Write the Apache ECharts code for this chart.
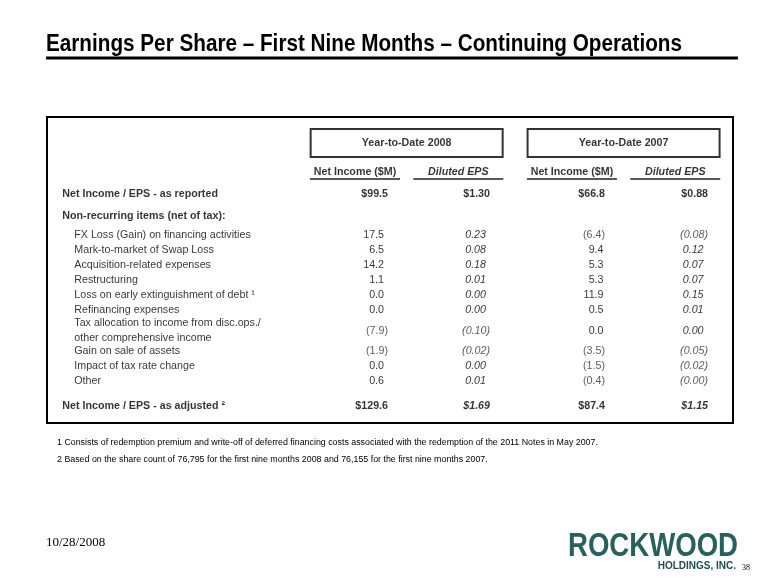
<!DOCTYPE html>
<html><head><meta charset="utf-8">
<script src="https://cdn.jsdelivr.net/npm/echarts@6/dist/echarts.min.js"></script>
<style>html,body{margin:0;padding:0;background:#fff}#c{width:780px;height:585px}</style>
</head><body><div id="c"></div>
<script>
// ---------------- data ----------------
const titleText = 'Earnings Per Share \u2013 First Nine Months \u2013 Continuing Operations';
const periods = ['Year-to-Date 2008', 'Year-to-Date 2007'];
const columnHeaders = ['Net Income ($M)', 'Diluted EPS', 'Net Income ($M)', 'Diluted EPS'];
const rowLabels = [
  'Net Income / EPS - as reported',
  'Non-recurring items (net of tax):',
  'FX Loss (Gain) on financing activities',
  'Mark-to-market of Swap Loss',
  'Acquisition-related expenses',
  'Restructuring',
  'Loss on early extinguishment of debt \u00b9',
  'Refinancing expenses',
  'Tax allocation to income from disc.ops./\nother comprehensive income',
  'Gain on sale of assets',
  'Impact of tax rate change',
  'Other',
  'Net Income / EPS - as adjusted \u00b2'
];
const rowKinds = ['total','section','item','item','item','item','item','item','item','item','item','item','total'];
const netIncome2008 = [99.5, null, 17.5, 6.5, 14.2, 1.1, 0.0, 0.0, -7.9, -1.9, 0.0, 0.6, 129.6];
const eps2008       = [1.30, null, 0.23, 0.08, 0.18, 0.01, 0.00, 0.00, -0.10, -0.02, 0.00, 0.01, 1.69];
const netIncome2007 = [66.8, null, -6.4, 9.4, 5.3, 5.3, 11.9, 0.5, 0.0, -3.5, -1.5, -0.4, 87.4];
const eps2007       = [0.88, null, -0.08, 0.12, 0.07, 0.07, 0.15, 0.01, 0.00, -0.05, -0.02, -0.00, 1.15];
const footnotes = [
  '1 Consists of redemption premium and write-off of deferred financing costs associated with the redemption of the 2011 Notes in May 2007.',
  '2 Based on the share count of 76,795 for the first nine months 2008 and 76,155 for the first nine months 2007.'
];
const footerDate = '10/28/2008';
const pageNumber = '38';
const logoMain = 'ROCKWOOD';
const logoSub = 'HOLDINGS, INC.';

// ---------------- layout ----------------
const FONT = '"Liberation Sans", Arial, sans-serif';
const FS = 10.7;
const GRID = {left: 47, top: 117, width: 686, height: 306};
const COL0_PX = 355, X_UNIT = 103.3;
const LINE0_PX = 193.8, Y_UNIT = 14.95;
const xMin = -(COL0_PX - GRID.left) / X_UNIT, xMax = xMin + GRID.width / X_UNIT;
const yMin = -(LINE0_PX - GRID.top) / Y_UNIT, yMax = yMin + GRID.height / Y_UNIT;

const columns = [
  {vals: netIncome2008, group: 0, sub: 0, dec: 1, eps: false},
  {vals: eps2008,       group: 0, sub: 1, dec: 2, eps: true},
  {vals: netIncome2007, group: 1, sub: 0, dec: 1, eps: false},
  {vals: eps2007,       group: 1, sub: 1, dec: 2, eps: true}
];
const colX = columns.map(c => c.group * 2.1 + c.sub);
const valueAnchor = [33, 31.7, 33.1, 32.8];
const positivePad = [4, 4, 1.5, 4.5];

// vertical position of each row (in line units)
const linePos = [];
rowLabels.forEach((lab, i) => {
  if (i === 0) { linePos.push(0); return; }
  let step = 1;
  if (rowKinds[i] === 'section') step = 1.5;
  if (rowKinds[i - 1] === 'section') step = 1.25;
  if (lab.includes('\n') || rowLabels[i - 1].includes('\n')) step = 1.4;
  if (rowKinds[i] === 'total') step = 1.65;
  linePos.push(linePos[i - 1] + step);
});
const HEADER_LINE = -1.48, UNDERLINE_LINE = -1.0, BOX_LINE = -3.39;

function fmt(v, dec, dollar) {
  const neg = v < 0 || Object.is(v, -0);
  const s = Math.abs(v).toFixed(dec);
  if (neg) return '(' + s + ')';
  return (dollar ? '$' : '') + s;
}

const series = [];

// row labels
series.push({
  type: 'scatter', symbolSize: 0, silent: true, z: 5,
  data: rowLabels.map((lab, i) => ({
    value: [xMin, linePos[i]], name: lab,
    label: {
      show: true, position: 'inside', align: 'left', verticalAlign: 'middle',
      offset: [rowKinds[i] === 'item' ? 27.3 : 15.3, 0],
      formatter: '{b}', fontFamily: FONT, fontSize: FS, lineHeight: 15.3,
      fontWeight: rowKinds[i] === 'item' ? 'normal' : 'bold', color: '#000'
    }
  }))
});

// value columns
columns.forEach((c, ci) => {
  const data = [];
  c.vals.forEach((v, i) => {
    if (v === null) return;
    const total = rowKinds[i] === 'total';
    const neg = v < 0 || Object.is(v, -0);
    const txt = fmt(v, c.dec, total);
    const pad = (!neg && !total) ? positivePad[ci] : 0;
    data.push({
      value: [colX[ci], linePos[i]], name: txt,
      label: {
        show: true, position: 'inside', align: 'right', verticalAlign: 'middle',
        offset: [valueAnchor[ci] - pad, 0], formatter: '{b}',
        fontFamily: FONT, fontSize: FS,
        fontWeight: total ? 'bold' : 'normal',
        fontStyle: (c.eps && i !== 0) ? 'italic' : 'normal',
        color: neg ? '#333' : '#000'
      }
    });
  });
  series.push({type: 'scatter', symbolSize: 0, silent: true, z: 5, data});
});

// column headers with underlines
const halfUnder = 45 / X_UNIT;
series.push({
  type: 'scatter', symbolSize: 0, silent: true, z: 5,
  data: columnHeaders.map((h, i) => ({
    value: [colX[i], HEADER_LINE], name: h,
    label: {
      show: true, position: 'inside', align: 'center', verticalAlign: 'middle',
      formatter: '{b}', fontFamily: FONT, fontSize: FS, fontWeight: 'bold',
      fontStyle: columns[i].eps ? 'italic' : 'normal', color: '#000'
    }
  })),
  markLine: {
    silent: true, symbol: ['none', 'none'], animation: false,
    label: {show: false},
    lineStyle: {color: '#222', width: 1.5, type: 'solid'},
    data: colX.map(x => [{coord: [x - halfUnder, UNDERLINE_LINE]}, {coord: [x + halfUnder, UNDERLINE_LINE]}])
  }
});

// period boxes
series.push({
  type: 'scatter', symbolSize: 0, silent: true, z: 5,
  data: periods.map((p, g) => ({
    value: [(colX[g * 2] + colX[g * 2 + 1]) / 2, BOX_LINE], name: p,
    label: {
      show: true, position: 'inside', align: 'center', verticalAlign: 'middle',
      formatter: '{b}', fontFamily: FONT, fontSize: FS, fontWeight: 'bold', color: '#000',
      width: 192, height: 28, lineHeight: 28,
      borderColor: '#000', borderWidth: 2, padding: 0
    }
  }))
});

// measurement for condensed title / logo
const ctx = document.createElement('canvas').getContext('2d');
ctx.font = 'bold 24px ' + FONT;
const titleScale = 636 / ctx.measureText(titleText).width;
ctx.font = 'bold 33px ' + FONT;
const logoScale = 170 / ctx.measureText(logoMain).width;

const chart = echarts.init(document.getElementById('c'), null, {renderer: 'canvas'});
chart.setOption({
  animation: false,
  backgroundColor: '#fff',
  grid: {left: GRID.left, top: GRID.top, width: GRID.width, height: GRID.height,
         show: true, borderColor: '#000', borderWidth: 2, backgroundColor: 'transparent'},
  xAxis: {type: 'value', min: xMin, max: xMax, show: false},
  yAxis: {type: 'value', min: yMin, max: yMax, inverse: true, show: false},
  series,
  graphic: [
    {type: 'text', x: 46, y: 44, scaleX: titleScale,
     style: {text: titleText, font: 'bold 24px ' + FONT, fill: '#000', verticalAlign: 'middle', align: 'left'}},
    {type: 'line', shape: {x1: 46, y1: 58, x2: 738, y2: 58}, style: {stroke: '#000', lineWidth: 3}},
    {type: 'text', x: 57, y: 443,
     style: {text: footnotes[0], font: '8.85px ' + FONT, fill: '#000', verticalAlign: 'middle'}},
    {type: 'text', x: 57, y: 460,
     style: {text: footnotes[1], font: '8.85px ' + FONT, fill: '#000', verticalAlign: 'middle'}},
    {type: 'text', x: 46, y: 543,
     style: {text: footerDate, font: '13px "Liberation Serif", serif', fill: '#000', verticalAlign: 'middle'}},
    {type: 'text', x: 568, y: 547, scaleX: logoScale,
     style: {text: logoMain, font: 'bold 33px ' + FONT, fill: '#27605c', verticalAlign: 'middle'}},
    {type: 'text', x: 736, y: 566,
     style: {text: logoSub, font: 'bold 10px ' + FONT, fill: '#1f4f4c', verticalAlign: 'middle', align: 'right'}},
    {type: 'text', x: 742, y: 568,
     style: {text: pageNumber, font: '8px "Liberation Serif", serif', fill: '#000', verticalAlign: 'middle'}}
  ]
});
</script></body></html>
